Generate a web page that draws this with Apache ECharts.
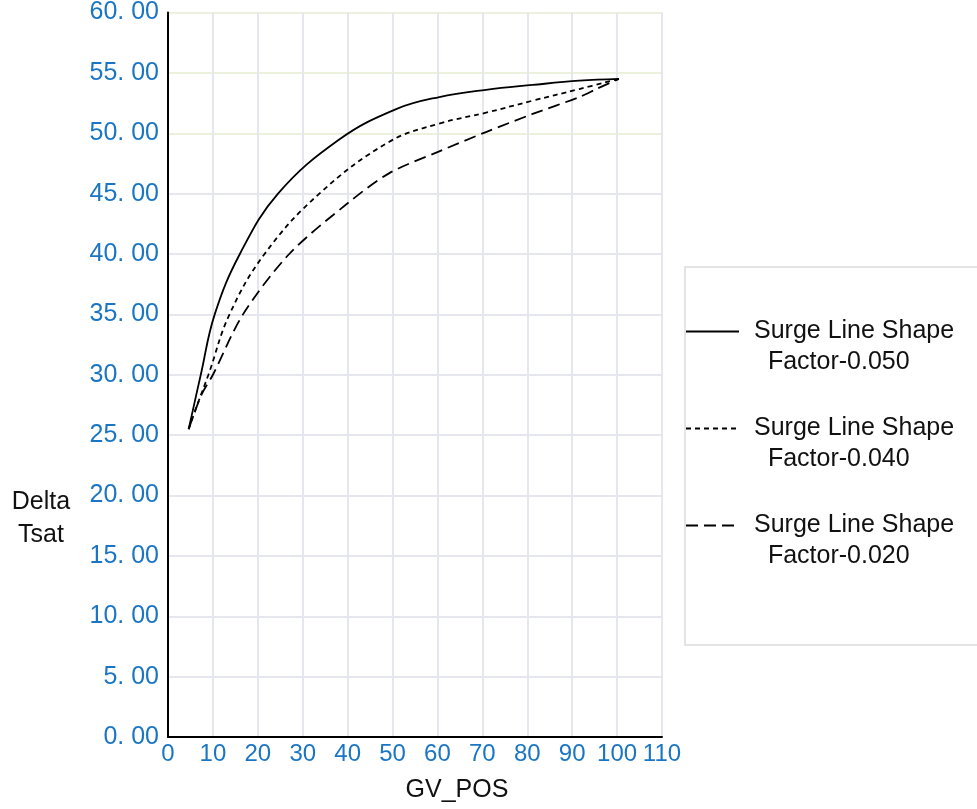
<!DOCTYPE html>
<html>
<head>
<meta charset="utf-8">
<script src="https://cdn.jsdelivr.net/npm/echarts@6/dist/echarts.min.js"></script>
<style>
html, body { margin: 0; padding: 0; background: #fff; }
#chart { width: 977px; height: 809px; }
</style>
</head>
<body>
<div id="chart"></div>
<script>
// values
const seriesNames = [
    'Surge Line Shape Factor-0.050',
    'Surge Line Shape Factor-0.040',
    'Surge Line Shape Factor-0.020'
];
const gvPos050 = [4.6, 7.3, 10.4, 16, 24.5, 38.2, 50.8, 60.4, 70.8, 81.2, 91.6, 100.4];
const tsat050  = [25.5, 30, 35, 40, 45, 49.5, 52.0, 53.0, 53.6, 54.0, 54.35, 54.5];
const gvPos040 = [4.6, 6.7, 9.0, 13.7, 21.5, 33.7, 49.3, 60.4, 70.8, 81.2, 91.6, 100.4];
const tsat040  = [25.5, 27.7, 30, 35, 40, 45, 49.3, 50.8, 51.7, 52.7, 53.66, 54.5];
const gvPos020 = [4.6, 7.4, 10, 16.7, 27, 40, 49.3, 60.4, 70.8, 81.2, 91.6, 95.6, 100.4];
const tsat020  = [25.5, 28.3, 30, 35, 40, 44.2, 46.7, 48.5, 50.1, 51.6, 53.0, 53.7, 54.5];

const font = "'Liberation Sans', Arial, sans-serif";
const blue = '#1a76c4';

function pairs(xs, ys) {
    return xs.map((x, i) => [x, ys[i]]);
}

// horizontal grid: lower lines grey, 50/55/60 lines light green
const hLineColors = [];
for (let i = 0; i <= 12; i++) {
    hLineColors.push(i >= 10 ? '#ebf1dc' : '#e6e6ee');
}

let myChart = echarts.init(document.getElementById('chart'));
myChart.setOption({
    animation: false,
    backgroundColor: '#fff',
    grid: {
        left: 168,
        right: 315,
        top: 8,
        bottom: 72
    },
    legend: {
        orient: 'vertical',
        left: 685,
        top: 267,
        padding: [18, 40, 73, 0],
        borderColor: '#dcdcdc',
        borderWidth: 1.5,
        itemWidth: 53,
        itemHeight: 14,
        itemGap: 4,
        selectedMode: false,
        data: seriesNames,
        itemStyle: { opacity: 0 },
        formatter: function (name) {
            // empty first line keeps the first text line level with the icon
            return '\n' + name.replace(' Factor', '\n  Factor');
        },
        textStyle: {
            fontFamily: font,
            fontSize: 25,
            lineHeight: 31,
            color: '#111',
            padding: [0, 0, 0, 10]
        }
    },
    graphic: [{
        type: 'text',
        x: 41,
        y: 486,
        style: {
            text: 'Delta\nTsat',
            font: '25px ' + font,
            lineHeight: 33,
            fill: '#111',
            align: 'center'
        }
    }],
    xAxis: {
        type: 'value',
        min: 0,
        max: 110,
        interval: 10,
        name: 'GV_POS',
        nameLocation: 'middle',
        nameGap: 41,
        nameTextStyle: {
            fontFamily: font,
            fontSize: 25,
            color: '#111',
            padding: [0, 0, 0, 84]
        },
        axisLine: { lineStyle: { color: '#000', width: 2 } },
        axisTick: { show: false },
        axisLabel: {
            fontFamily: font,
            fontSize: 24,
            color: blue,
            margin: 5
        },
        splitLine: { show: true, lineStyle: { color: '#e6e6ee', width: 2 } }
    },
    yAxis: {
        type: 'value',
        min: 0,
        max: 60,
        interval: 5,
        axisLine: { show: true, lineStyle: { color: '#000', width: 2 } },
        axisTick: { show: false },
        axisLabel: {
            fontFamily: font,
            fontSize: 25,
            color: blue,
            margin: 9,
            formatter: function (v) {
                return v.toFixed(2).replace('.', '. ');
            }
        },
        splitLine: { show: true, lineStyle: { color: hLineColors, width: 2 } }
    },
    series: [
        {
            name: seriesNames[0],
            type: 'line',
            symbol: 'none',
            smooth: 0.4,
            data: pairs(gvPos050, tsat050),
            lineStyle: { color: '#000', width: 1.8, type: 'solid' },
            itemStyle: { color: '#000' }
        },
        {
            name: seriesNames[1],
            type: 'line',
            symbol: 'none',
            smooth: 0.4,
            data: pairs(gvPos040, tsat040),
            lineStyle: { color: '#000', width: 1.8, type: [5, 4] },
            itemStyle: { color: '#000' }
        },
        {
            name: seriesNames[2],
            type: 'line',
            symbol: 'none',
            smooth: 0.3,
            data: pairs(gvPos020, tsat020),
            lineStyle: { color: '#000', width: 1.8, type: [12, 6] },
            itemStyle: { color: '#000' }
        }
    ]
});
</script>
</body>
</html>
